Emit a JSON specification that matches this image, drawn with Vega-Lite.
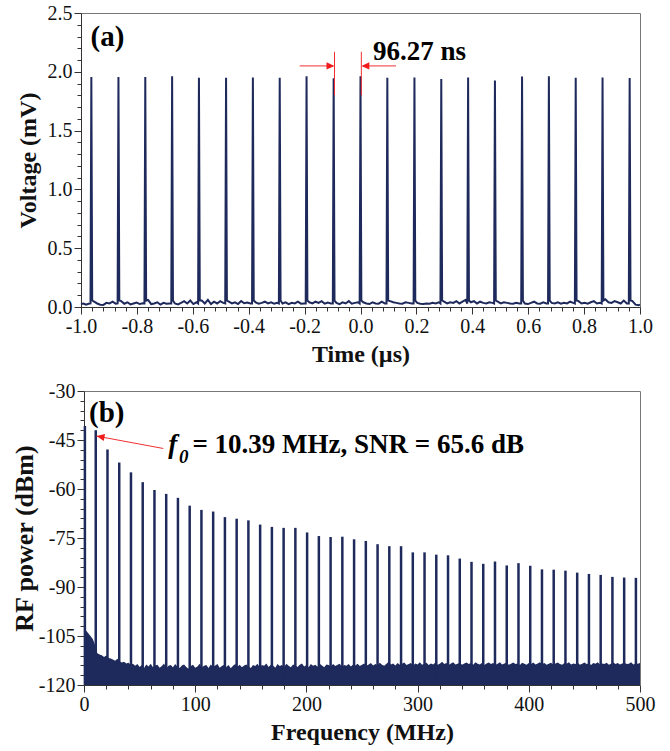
{
  "$schema": "https://vega.github.io/schema/vega-lite/v6.json",
  "padding": {"left": 11, "top": 2, "right": 13, "bottom": 5},
  "bounds": "flush",
  "spacing": 84,
  "config": {
    "font": "Liberation Serif",
    "view": {"stroke": "#777", "strokeWidth": 1},
    "axis": {"grid": false, "domainColor": "#333", "tickColor": "#333", "labelFont": "Liberation Serif", "labelFontSize": 20, "labelColor": "#111", "titleFont": "Liberation Serif", "titleFontSize": 24, "titleFontWeight": "bold", "titleColor": "#111", "labelOverlap": false, "labelFlush": false, "labelPadding": 2}
  },
  "vconcat": [
    {
      "width": 559,
      "height": 294,
      "resolve": {"axis": {"x": "independent", "y": "independent"}},
      "layer": [
        {
          "data": {"values": [
            {"t": -1.0, "v": 0.025}, {"t": -0.991, "v": 0.03}, {"t": -0.982, "v": 0.02}, {"t": -0.973, "v": 0.028},
            {"t": -0.966, "v": 0.03}, {"t": -0.963, "v": 1.955}, {"t": -0.96, "v": 0.055},
            {"t": -0.953, "v": 0.045}, {"t": -0.942, "v": 0.03}, {"t": -0.931, "v": 0.02}, {"t": -0.92, "v": 0.018}, {"t": -0.909, "v": 0.035}, {"t": -0.898, "v": 0.03}, {"t": -0.887, "v": 0.045}, {"t": -0.876, "v": 0.028},
            {"t": -0.869, "v": 0.03}, {"t": -0.866, "v": 1.955}, {"t": -0.863, "v": 0.055},
            {"t": -0.856, "v": 0.05}, {"t": -0.845, "v": 0.028}, {"t": -0.834, "v": 0.04}, {"t": -0.823, "v": 0.022}, {"t": -0.812, "v": 0.03}, {"t": -0.801, "v": 0.038}, {"t": -0.79, "v": 0.025}, {"t": -0.779, "v": 0.032},
            {"t": -0.773, "v": 0.03}, {"t": -0.77, "v": 1.955}, {"t": -0.767, "v": 0.055},
            {"t": -0.76, "v": 0.06}, {"t": -0.749, "v": 0.025}, {"t": -0.738, "v": 0.03}, {"t": -0.727, "v": 0.04}, {"t": -0.716, "v": 0.02}, {"t": -0.705, "v": 0.035}, {"t": -0.694, "v": 0.028}, {"t": -0.683, "v": 0.03},
            {"t": -0.677, "v": 0.03}, {"t": -0.674, "v": 1.962}, {"t": -0.671, "v": 0.055},
            {"t": -0.664, "v": 0.03}, {"t": -0.653, "v": 0.022}, {"t": -0.642, "v": 0.035}, {"t": -0.631, "v": 0.05}, {"t": -0.62, "v": 0.03}, {"t": -0.609, "v": 0.055}, {"t": -0.598, "v": 0.025}, {"t": -0.587, "v": 0.04},
            {"t": -0.581, "v": 0.03}, {"t": -0.578, "v": 1.95}, {"t": -0.575, "v": 0.055},
            {"t": -0.568, "v": 0.055}, {"t": -0.557, "v": 0.03}, {"t": -0.546, "v": 0.06}, {"t": -0.535, "v": 0.025}, {"t": -0.524, "v": 0.045}, {"t": -0.513, "v": 0.03}, {"t": -0.502, "v": 0.05}, {"t": -0.491, "v": 0.035},
            {"t": -0.484, "v": 0.03}, {"t": -0.481, "v": 1.95}, {"t": -0.478, "v": 0.055},
            {"t": -0.471, "v": 0.045}, {"t": -0.46, "v": 0.03}, {"t": -0.449, "v": 0.04}, {"t": -0.438, "v": 0.025}, {"t": -0.427, "v": 0.05}, {"t": -0.416, "v": 0.032}, {"t": -0.405, "v": 0.038}, {"t": -0.394, "v": 0.03},
            {"t": -0.388, "v": 0.03}, {"t": -0.385, "v": 1.952}, {"t": -0.382, "v": 0.055},
            {"t": -0.375, "v": 0.04}, {"t": -0.364, "v": 0.028}, {"t": -0.353, "v": 0.035}, {"t": -0.342, "v": 0.045}, {"t": -0.331, "v": 0.03}, {"t": -0.32, "v": 0.04}, {"t": -0.309, "v": 0.028}, {"t": -0.298, "v": 0.035},
            {"t": -0.292, "v": 0.03}, {"t": -0.289, "v": 1.95}, {"t": -0.286, "v": 0.055},
            {"t": -0.279, "v": 0.03}, {"t": -0.268, "v": 0.04}, {"t": -0.257, "v": 0.025}, {"t": -0.246, "v": 0.035}, {"t": -0.235, "v": 0.03}, {"t": -0.224, "v": 0.045}, {"t": -0.213, "v": 0.028}, {"t": -0.202, "v": 0.03},
            {"t": -0.196, "v": 0.03}, {"t": -0.193, "v": 1.963}, {"t": -0.19, "v": 0.055},
            {"t": -0.183, "v": 0.04}, {"t": -0.172, "v": 0.03}, {"t": -0.161, "v": 0.045}, {"t": -0.15, "v": 0.035}, {"t": -0.139, "v": 0.05}, {"t": -0.128, "v": 0.028}, {"t": -0.117, "v": 0.038}, {"t": -0.106, "v": 0.03},
            {"t": -0.099, "v": 0.03}, {"t": -0.096, "v": 1.945}, {"t": -0.093, "v": 0.055},
            {"t": -0.086, "v": 0.035}, {"t": -0.075, "v": 0.025}, {"t": -0.064, "v": 0.04}, {"t": -0.053, "v": 0.03}, {"t": -0.042, "v": 0.05}, {"t": -0.031, "v": 0.028}, {"t": -0.02, "v": 0.035}, {"t": -0.009, "v": 0.04},
            {"t": -0.003, "v": 0.03}, {"t": 0.0, "v": 1.963}, {"t": 0.003, "v": 0.055},
            {"t": 0.01, "v": 0.04}, {"t": 0.021, "v": 0.03}, {"t": 0.032, "v": 0.025}, {"t": 0.043, "v": 0.04}, {"t": 0.054, "v": 0.03}, {"t": 0.065, "v": 0.028}, {"t": 0.076, "v": 0.045}, {"t": 0.087, "v": 0.03},
            {"t": 0.093, "v": 0.03}, {"t": 0.096, "v": 1.95}, {"t": 0.099, "v": 0.055},
            {"t": 0.106, "v": 0.05}, {"t": 0.117, "v": 0.04}, {"t": 0.128, "v": 0.035}, {"t": 0.139, "v": 0.03}, {"t": 0.15, "v": 0.028}, {"t": 0.161, "v": 0.04}, {"t": 0.172, "v": 0.035}, {"t": 0.183, "v": 0.03},
            {"t": 0.19, "v": 0.03}, {"t": 0.193, "v": 1.952}, {"t": 0.196, "v": 0.055},
            {"t": 0.203, "v": 0.035}, {"t": 0.214, "v": 0.028}, {"t": 0.225, "v": 0.025}, {"t": 0.236, "v": 0.03}, {"t": 0.247, "v": 0.028}, {"t": 0.258, "v": 0.035}, {"t": 0.269, "v": 0.03}, {"t": 0.28, "v": 0.04},
            {"t": 0.286, "v": 0.03}, {"t": 0.289, "v": 1.938}, {"t": 0.292, "v": 0.055},
            {"t": 0.299, "v": 0.045}, {"t": 0.31, "v": 0.03}, {"t": 0.321, "v": 0.04}, {"t": 0.332, "v": 0.035}, {"t": 0.343, "v": 0.05}, {"t": 0.354, "v": 0.03}, {"t": 0.365, "v": 0.045}, {"t": 0.376, "v": 0.06},
            {"t": 0.382, "v": 0.03}, {"t": 0.385, "v": 1.952}, {"t": 0.388, "v": 0.055},
            {"t": 0.395, "v": 0.04}, {"t": 0.406, "v": 0.05}, {"t": 0.417, "v": 0.03}, {"t": 0.428, "v": 0.045}, {"t": 0.439, "v": 0.035}, {"t": 0.45, "v": 0.03}, {"t": 0.461, "v": 0.04}, {"t": 0.472, "v": 0.035},
            {"t": 0.478, "v": 0.03}, {"t": 0.481, "v": 1.927}, {"t": 0.484, "v": 0.055},
            {"t": 0.491, "v": 0.045}, {"t": 0.502, "v": 0.03}, {"t": 0.513, "v": 0.04}, {"t": 0.524, "v": 0.035}, {"t": 0.535, "v": 0.03}, {"t": 0.546, "v": 0.028}, {"t": 0.557, "v": 0.035}, {"t": 0.568, "v": 0.03},
            {"t": 0.575, "v": 0.03}, {"t": 0.578, "v": 1.96}, {"t": 0.581, "v": 0.055},
            {"t": 0.588, "v": 0.03}, {"t": 0.599, "v": 0.025}, {"t": 0.61, "v": 0.035}, {"t": 0.621, "v": 0.045}, {"t": 0.632, "v": 0.03}, {"t": 0.643, "v": 0.028}, {"t": 0.654, "v": 0.04}, {"t": 0.665, "v": 0.03},
            {"t": 0.671, "v": 0.03}, {"t": 0.674, "v": 1.963}, {"t": 0.677, "v": 0.055},
            {"t": 0.684, "v": 0.035}, {"t": 0.695, "v": 0.03}, {"t": 0.706, "v": 0.04}, {"t": 0.717, "v": 0.028}, {"t": 0.728, "v": 0.035}, {"t": 0.739, "v": 0.03}, {"t": 0.75, "v": 0.045}, {"t": 0.761, "v": 0.035},
            {"t": 0.767, "v": 0.03}, {"t": 0.77, "v": 1.95}, {"t": 0.773, "v": 0.055},
            {"t": 0.78, "v": 0.05}, {"t": 0.791, "v": 0.03}, {"t": 0.802, "v": 0.035}, {"t": 0.813, "v": 0.028}, {"t": 0.824, "v": 0.04}, {"t": 0.835, "v": 0.05}, {"t": 0.846, "v": 0.03}, {"t": 0.857, "v": 0.035},
            {"t": 0.863, "v": 0.03}, {"t": 0.866, "v": 1.952}, {"t": 0.869, "v": 0.055},
            {"t": 0.876, "v": 0.065}, {"t": 0.887, "v": 0.04}, {"t": 0.898, "v": 0.035}, {"t": 0.909, "v": 0.05}, {"t": 0.92, "v": 0.04}, {"t": 0.931, "v": 0.03}, {"t": 0.942, "v": 0.055}, {"t": 0.953, "v": 0.03},
            {"t": 0.96, "v": 0.03}, {"t": 0.963, "v": 1.947}, {"t": 0.966, "v": 0.055},
            {"t": 0.973, "v": 0.05}, {"t": 0.984, "v": 0.02}, {"t": 0.995, "v": 0.015}, {"t": 1.0, "v": 0.02}
          ]},
          "mark": {"type": "line", "color": "#1f2a5c", "strokeWidth": 2},
          "encoding": {
            "x": {"field": "t", "type": "quantitative", "scale": {"domain": [-1, 1], "nice": false},
              "axis": {"title": "Time (µs)", "titlePadding": 6, "labelOverlap": false, "labelFlush": false,
                "values": [-1, -0.96, -0.92, -0.88, -0.84, -0.8, -0.76, -0.72, -0.68, -0.64, -0.6, -0.56, -0.52, -0.48, -0.44, -0.4, -0.36, -0.32, -0.28, -0.24, -0.2, -0.16, -0.12, -0.08, -0.04, 0, 0.04, 0.08, 0.12, 0.16, 0.2, 0.24, 0.28, 0.32, 0.36, 0.4, 0.44, 0.48, 0.52, 0.56, 0.6, 0.64, 0.68, 0.72, 0.76, 0.8, 0.84, 0.88, 0.92, 0.96, 1],
                "labelExpr": "abs(datum.value*5-round(datum.value*5))<0.001 ? (datum.value<-0.001?'-':'')+format(abs(datum.value),'.1f') : ''",
                "tickSize": {"condition": {"test": "abs(datum.value*5-round(datum.value*5))<0.001", "value": 7}, "value": 4}}},
            "y": {"field": "v", "type": "quantitative", "scale": {"domain": [0, 2.5], "nice": false},
              "axis": {"title": "Voltage (mV)", "titlePadding": 7, "labelOverlap": false,
                "values": [0, 0.1, 0.2, 0.3, 0.4, 0.5, 0.6, 0.7, 0.8, 0.9, 1, 1.1, 1.2, 1.3, 1.4, 1.5, 1.6, 1.7, 1.8, 1.9, 2, 2.1, 2.2, 2.3, 2.4, 2.5],
                "labelExpr": "abs(datum.value*2-round(datum.value*2))<0.001 ? format(datum.value,'.1f') : ''",
                "tickSize": {"condition": {"test": "abs(datum.value*2-round(datum.value*2))<0.001", "value": 7}, "value": 4}}}
          }
        },
        {
          "data": {"values": [
            {"t": -0.2175, "t2": -0.1, "v": 2.05, "v2": 2.05},
            {"t": 0.127, "t2": 0.01, "v": 2.05, "v2": 2.05},
            {"t": -0.093, "t2": -0.093, "v": 1.8, "v2": 2.17},
            {"t": 0.003, "t2": 0.003, "v": 1.8, "v2": 2.17}
          ]},
          "mark": {"type": "rule", "color": "#f03030", "strokeWidth": 1},
          "encoding": {
            "x": {"field": "t", "type": "quantitative", "axis": null},
            "x2": {"field": "t2"},
            "y": {"field": "v", "type": "quantitative", "axis": null},
            "y2": {"field": "v2"}
          }
        },
        {
          "data": {"values": [{"t": -0.093, "v": 2.05}]},
          "mark": {"type": "point", "shape": "M0,0L-2,-0.9L-2,0.9Z", "size": 64, "filled": true, "color": "#f01c1c", "opacity": 1},
          "encoding": {"x": {"field": "t", "type": "quantitative", "axis": null}, "y": {"field": "v", "type": "quantitative", "axis": null}}
        },
        {
          "data": {"values": [{"t": 0.003, "v": 2.05}]},
          "mark": {"type": "point", "shape": "M0,0L2,-0.9L2,0.9Z", "size": 64, "filled": true, "color": "#f01c1c", "opacity": 1},
          "encoding": {"x": {"field": "t", "type": "quantitative", "axis": null}, "y": {"field": "v", "type": "quantitative", "axis": null}}
        },
        {
          "data": {"values": [{"t": -0.966, "v": 2.221, "label": "(a)"}]},
          "mark": {"type": "text", "font": "Liberation Serif", "fontWeight": "bold", "fontSize": 29, "align": "left", "baseline": "alphabetic", "color": "#000"},
          "encoding": {"x": {"field": "t", "type": "quantitative", "axis": null}, "y": {"field": "v", "type": "quantitative", "axis": null}, "text": {"field": "label"}}
        },
        {
          "data": {"values": [{"t": 0.045, "v": 2.104, "label": "96.27 ns"}]},
          "mark": {"type": "text", "font": "Liberation Serif", "fontWeight": "bold", "fontSize": 27, "align": "left", "baseline": "alphabetic", "color": "#000"},
          "encoding": {"x": {"field": "t", "type": "quantitative", "axis": null}, "y": {"field": "v", "type": "quantitative", "axis": null}, "text": {"field": "label"}}
        }
      ]
    },
    {
      "width": 559,
      "height": 294,
      "view": {"stroke": null},
      "resolve": {"axis": {"x": "independent", "y": "independent"}},
      "layer": [
        {
          "data": {"values": [
            {"f": 0, "n": -102.6}, {"f": 2, "n": -103.4}, {"f": 4, "n": -104.2}, {"f": 6, "n": -105.1}, {"f": 8, "n": -106.0}, {"f": 10, "n": -107.8}, {"f": 12, "n": -110.3}, {"f": 14, "n": -110.7}, {"f": 16, "n": -110.9}, {"f": 18, "n": -111.4},
            {"f": 20, "n": -111.0}, {"f": 22, "n": -111.7}, {"f": 24, "n": -111.9}, {"f": 26, "n": -112.2}, {"f": 28, "n": -112.6}, {"f": 30, "n": -112.0}, {"f": 32, "n": -112.7}, {"f": 34, "n": -113.1}, {"f": 36, "n": -112.9}, {"f": 38, "n": -113.4},
            {"f": 40, "n": -113.2}, {"f": 42, "n": -113.8}, {"f": 44, "n": -113.5},
            {"f": 46, "n": -114.1}, {"f": 48, "n": -113.6}, {"f": 50, "n": -114.5}, {"f": 52, "n": -113.9}, {"f": 54, "n": -114.8}, {"f": 56, "n": -113.7}, {"f": 58, "n": -114.3}, {"f": 60, "n": -113.5}, {"f": 62, "n": -114.6}, {"f": 64, "n": -114.0},
            {"f": 66, "n": -113.8}, {"f": 68, "n": -114.7}, {"f": 70, "n": -114.2}, {"f": 72, "n": -113.4}, {"f": 74, "n": -114.9}, {"f": 76, "n": -114.1}, {"f": 78, "n": -113.9}, {"f": 80, "n": -114.6}, {"f": 82, "n": -113.6}, {"f": 84, "n": -114.4},
            {"f": 86, "n": -114.8}, {"f": 88, "n": -114.0}, {"f": 90, "n": -113.7}, {"f": 92, "n": -114.5}, {"f": 94, "n": -115.0}, {"f": 96, "n": -114.2}, {"f": 98, "n": -113.8}, {"f": 100, "n": -114.7}, {"f": 102, "n": -114.3}, {"f": 104, "n": -113.5},
            {"f": 106, "n": -114.6}, {"f": 108, "n": -114.1}, {"f": 110, "n": -113.9}, {"f": 112, "n": -114.8}, {"f": 114, "n": -113.7}, {"f": 116, "n": -114.4}, {"f": 118, "n": -114.0}, {"f": 120, "n": -113.6}, {"f": 122, "n": -114.7}, {"f": 124, "n": -114.2},
            {"f": 126, "n": -113.8}, {"f": 128, "n": -114.5}, {"f": 130, "n": -113.9}, {"f": 132, "n": -114.9}, {"f": 134, "n": -114.1}, {"f": 136, "n": -113.6}, {"f": 138, "n": -114.4}, {"f": 140, "n": -113.8}, {"f": 142, "n": -114.6}, {"f": 144, "n": -114.0},
            {"f": 146, "n": -113.7}, {"f": 148, "n": -114.3}, {"f": 150, "n": -114.8}, {"f": 152, "n": -113.9}, {"f": 154, "n": -114.2}, {"f": 156, "n": -113.5}, {"f": 158, "n": -114.6}, {"f": 160, "n": -113.9}, {"f": 162, "n": -114.1}, {"f": 164, "n": -113.4},
            {"f": 166, "n": -114.5}, {"f": 168, "n": -113.8}, {"f": 170, "n": -114.0}, {"f": 172, "n": -114.7}, {"f": 174, "n": -113.6}, {"f": 176, "n": -114.2}, {"f": 178, "n": -113.9}, {"f": 180, "n": -114.4}, {"f": 182, "n": -113.5}, {"f": 184, "n": -114.1},
            {"f": 186, "n": -114.6}, {"f": 188, "n": -113.7}, {"f": 190, "n": -114.0}, {"f": 192, "n": -114.5}, {"f": 194, "n": -113.8}, {"f": 196, "n": -113.4}, {"f": 198, "n": -114.3}, {"f": 200, "n": -113.9}, {"f": 202, "n": -114.6}, {"f": 204, "n": -113.6},
            {"f": 206, "n": -114.1}, {"f": 208, "n": -113.8}, {"f": 210, "n": -114.4}, {"f": 212, "n": -113.5}, {"f": 214, "n": -114.0}, {"f": 216, "n": -114.6}, {"f": 218, "n": -113.7}, {"f": 220, "n": -113.9}, {"f": 222, "n": -114.3}, {"f": 224, "n": -113.6},
            {"f": 226, "n": -114.2}, {"f": 228, "n": -113.8}, {"f": 230, "n": -113.5}, {"f": 232, "n": -114.4}, {"f": 234, "n": -113.9}, {"f": 236, "n": -114.1}, {"f": 238, "n": -113.6}, {"f": 240, "n": -114.3}, {"f": 242, "n": -113.7}, {"f": 244, "n": -114.0},
            {"f": 246, "n": -113.5}, {"f": 248, "n": -114.2}, {"f": 250, "n": -113.8}, {"f": 252, "n": -113.4}, {"f": 254, "n": -114.1}, {"f": 256, "n": -113.7}, {"f": 258, "n": -113.3}, {"f": 260, "n": -114.0}, {"f": 262, "n": -113.6}, {"f": 264, "n": -113.9},
            {"f": 266, "n": -113.2}, {"f": 268, "n": -113.8}, {"f": 270, "n": -114.1}, {"f": 272, "n": -113.5}, {"f": 274, "n": -112.9}, {"f": 276, "n": -113.7}, {"f": 278, "n": -113.4}, {"f": 280, "n": -114.0}, {"f": 282, "n": -113.3}, {"f": 284, "n": -113.8},
            {"f": 286, "n": -113.5}, {"f": 288, "n": -113.1}, {"f": 290, "n": -113.9}, {"f": 292, "n": -113.6}, {"f": 294, "n": -113.3}, {"f": 296, "n": -114.0}, {"f": 298, "n": -113.4}, {"f": 300, "n": -113.7}, {"f": 302, "n": -113.0}, {"f": 304, "n": -113.8},
            {"f": 306, "n": -113.5}, {"f": 308, "n": -113.2}, {"f": 310, "n": -113.9}, {"f": 312, "n": -113.4}, {"f": 314, "n": -113.7}, {"f": 316, "n": -113.1}, {"f": 318, "n": -113.8}, {"f": 320, "n": -113.5}, {"f": 322, "n": -112.9}, {"f": 324, "n": -113.6},
            {"f": 326, "n": -113.3}, {"f": 328, "n": -113.9}, {"f": 330, "n": -113.4}, {"f": 332, "n": -113.0}, {"f": 334, "n": -113.7}, {"f": 336, "n": -113.5}, {"f": 338, "n": -113.2}, {"f": 340, "n": -113.8}, {"f": 342, "n": -113.4}, {"f": 344, "n": -113.1},
            {"f": 346, "n": -113.6}, {"f": 348, "n": -113.3}, {"f": 350, "n": -113.8}, {"f": 352, "n": -113.0}, {"f": 354, "n": -113.5}, {"f": 356, "n": -113.7}, {"f": 358, "n": -113.2}, {"f": 360, "n": -113.9}, {"f": 362, "n": -113.4}, {"f": 364, "n": -113.1},
            {"f": 366, "n": -113.6}, {"f": 368, "n": -113.3}, {"f": 370, "n": -113.8}, {"f": 372, "n": -113.5}, {"f": 374, "n": -113.0}, {"f": 376, "n": -113.7}, {"f": 378, "n": -113.4}, {"f": 380, "n": -113.2}, {"f": 382, "n": -113.8}, {"f": 384, "n": -113.5},
            {"f": 386, "n": -113.1}, {"f": 388, "n": -113.6}, {"f": 390, "n": -113.4}, {"f": 392, "n": -113.9}, {"f": 394, "n": -113.2}, {"f": 396, "n": -113.5}, {"f": 398, "n": -113.8}, {"f": 400, "n": -113.3}, {"f": 402, "n": -113.6}, {"f": 404, "n": -113.1},
            {"f": 406, "n": -113.7}, {"f": 408, "n": -113.4}, {"f": 410, "n": -113.0}, {"f": 412, "n": -113.6}, {"f": 414, "n": -113.3}, {"f": 416, "n": -113.8}, {"f": 418, "n": -113.5}, {"f": 420, "n": -113.2}, {"f": 422, "n": -113.7}, {"f": 424, "n": -113.4},
            {"f": 426, "n": -113.1}, {"f": 428, "n": -113.6}, {"f": 430, "n": -113.8}, {"f": 432, "n": -113.3}, {"f": 434, "n": -113.5}, {"f": 436, "n": -113.0}, {"f": 438, "n": -113.7}, {"f": 440, "n": -113.4}, {"f": 442, "n": -113.6}, {"f": 444, "n": -113.2},
            {"f": 446, "n": -113.8}, {"f": 448, "n": -113.5}, {"f": 450, "n": -113.1}, {"f": 452, "n": -113.6}, {"f": 454, "n": -113.4}, {"f": 456, "n": -113.9}, {"f": 458, "n": -113.3}, {"f": 460, "n": -113.5}, {"f": 462, "n": -113.0}, {"f": 464, "n": -113.7},
            {"f": 466, "n": -113.4}, {"f": 468, "n": -113.6}, {"f": 470, "n": -113.2}, {"f": 472, "n": -113.8}, {"f": 474, "n": -113.5}, {"f": 476, "n": -113.1}, {"f": 478, "n": -113.6}, {"f": 480, "n": -113.3}, {"f": 482, "n": -113.7}, {"f": 484, "n": -113.4},
            {"f": 486, "n": -113.2}, {"f": 488, "n": -113.6}, {"f": 490, "n": -113.5}, {"f": 492, "n": -113.0}, {"f": 494, "n": -113.7}, {"f": 496, "n": -113.4}, {"f": 498, "n": -113.5}, {"f": 500, "n": -113.3}
          ]},
          "mark": {"type": "area", "color": "#1f2a5c", "opacity": 1},
          "encoding": {
            "x": {"field": "f", "type": "quantitative", "scale": {"domain": [0, 500], "nice": false, "range": [3, 559]},
              "axis": {"title": "Frequency (MHz)", "titlePadding": 6, "labelOverlap": false, "labelFlush": false,
                "values": [0, 20, 40, 60, 80, 100, 120, 140, 160, 180, 200, 220, 240, 260, 280, 300, 320, 340, 360, 380, 400, 420, 440, 460, 480, 500],
                "labelExpr": "datum.value % 100 === 0 ? format(datum.value, 'd') : ''",
                "tickSize": {"condition": {"test": "datum.value % 100 === 0", "value": 7}, "value": 4}}},
            "y": {"field": "n", "type": "quantitative", "scale": {"domain": [-120, -30], "nice": false, "zero": false},
              "axis": {"title": "RF power (dBm)", "titleFontSize": 26, "titlePadding": 1, "offset": -3, "labelOverlap": false,
                "values": [-120, -117, -114, -111, -108, -105, -102, -99, -96, -93, -90, -87, -84, -81, -78, -75, -72, -69, -66, -63, -60, -57, -54, -51, -48, -45, -42, -39, -36, -33, -30],
                "labelExpr": "datum.value % 15 === 0 ? (datum.value<0?'-':'')+format(abs(datum.value),'d') : ''",
                "tickSize": {"condition": {"test": "datum.value % 15 === 0", "value": 7}, "value": 4}}},
            "y2": {"datum": -120}
          }
        },
        {
          "data": {"values": [
            {"f": 0.8, "p": -40.7}, {"f": 10.56, "p": -42.0}, {"f": 21.12, "p": -47.9}, {"f": 31.68, "p": -51.9}, {"f": 42.24, "p": -54.9}, {"f": 52.8, "p": -57.9}, {"f": 63.36, "p": -60.3}, {"f": 73.92, "p": -61.5},
            {"f": 84.48, "p": -62.7}, {"f": 95.04, "p": -65.1}, {"f": 105.6, "p": -66.4}, {"f": 116.16, "p": -66.9}, {"f": 126.72, "p": -68.6}, {"f": 137.28, "p": -69.1}, {"f": 147.84, "p": -69.6}, {"f": 158.4, "p": -70.9},
            {"f": 168.96, "p": -71.6}, {"f": 179.52, "p": -71.9}, {"f": 190.08, "p": -71.9}, {"f": 200.64, "p": -73.3}, {"f": 211.2, "p": -74.4}, {"f": 221.76, "p": -74.7}, {"f": 232.32, "p": -74.6}, {"f": 242.88, "p": -75.4},
            {"f": 253.44, "p": -75.9}, {"f": 264.0, "p": -76.9}, {"f": 274.56, "p": -77.5}, {"f": 285.12, "p": -77.5}, {"f": 295.68, "p": -79.4}, {"f": 306.24, "p": -79.4}, {"f": 316.8, "p": -80.1}, {"f": 327.36, "p": -80.3},
            {"f": 337.92, "p": -81.3}, {"f": 348.48, "p": -82.3}, {"f": 359.04, "p": -82.9}, {"f": 369.6, "p": -82.2}, {"f": 380.16, "p": -83.4}, {"f": 390.72, "p": -82.7}, {"f": 401.28, "p": -83.5}, {"f": 411.84, "p": -84.6},
            {"f": 422.4, "p": -84.7}, {"f": 432.96, "p": -85.0}, {"f": 443.52, "p": -85.6}, {"f": 454.08, "p": -86.0}, {"f": 464.64, "p": -86.3}, {"f": 475.2, "p": -86.9}, {"f": 485.76, "p": -87.1}, {"f": 496.32, "p": -87.2}
          ]},
          "mark": {"type": "rule", "color": "#1f2a5c", "strokeWidth": 2.5},
          "encoding": {
            "x": {"field": "f", "type": "quantitative", "scale": {"domain": [0, 500], "nice": false, "range": [3, 559]},
              "axis": {"orient": "top", "labels": false, "ticks": false, "title": null, "domainColor": "#777"}},
            "y": {"field": "p", "type": "quantitative", "scale": {"domain": [-120, -30], "nice": false, "zero": false},
              "axis": {"orient": "right", "labels": false, "ticks": false, "title": null, "domainColor": "#777"}},
            "y2": {"datum": -120}
          }
        },
        {
          "data": {"values": [{"f": 11.3, "f2": 71.3, "p": -43.8, "p2": -47.6}]},
          "mark": {"type": "rule", "color": "#f03030", "strokeWidth": 1},
          "encoding": {
            "x": {"field": "f", "type": "quantitative", "axis": null},
            "x2": {"field": "f2"},
            "y": {"field": "p", "type": "quantitative", "axis": null},
            "y2": {"field": "p2"}
          }
        },
        {
          "data": {"values": [{"f": 11.3, "p": -43.8}]},
          "mark": {"type": "point", "shape": "M0,0L2,-0.9L2,0.9Z", "size": 64, "angle": 10.4, "filled": true, "color": "#f01c1c", "opacity": 1},
          "encoding": {"x": {"field": "f", "type": "quantitative", "axis": null}, "y": {"field": "p", "type": "quantitative", "axis": null}}
        },
        {
          "data": {"values": [{"f": 4.5, "p": -39.4, "label": "(b)"}]},
          "mark": {"type": "text", "font": "Liberation Serif", "fontWeight": "bold", "fontSize": 29, "align": "left", "baseline": "alphabetic", "color": "#000"},
          "encoding": {"x": {"field": "f", "type": "quantitative", "axis": null}, "y": {"field": "p", "type": "quantitative", "axis": null}, "text": {"field": "label"}}
        },
        {
          "data": {"values": [{"f": 75.8, "p": -48.9, "label": "f"}]},
          "mark": {"type": "text", "font": "Liberation Serif", "fontWeight": "bold", "fontStyle": "italic", "fontSize": 27, "align": "left", "baseline": "alphabetic", "color": "#000"},
          "encoding": {"x": {"field": "f", "type": "quantitative", "axis": null}, "y": {"field": "p", "type": "quantitative", "axis": null}, "text": {"field": "label"}}
        },
        {
          "data": {"values": [{"f": 85.5, "p": -52.1, "label": "0"}]},
          "mark": {"type": "text", "font": "Liberation Serif", "fontWeight": "bold", "fontStyle": "italic", "fontSize": 19, "align": "left", "baseline": "alphabetic", "color": "#000"},
          "encoding": {"x": {"field": "f", "type": "quantitative", "axis": null}, "y": {"field": "p", "type": "quantitative", "axis": null}, "text": {"field": "label"}}
        },
        {
          "data": {"values": [{"f": 97.5, "p": -48.9, "label": "= 10.39 MHz, SNR = 65.6 dB"}]},
          "mark": {"type": "text", "font": "Liberation Serif", "fontWeight": "bold", "fontSize": 27, "align": "left", "baseline": "alphabetic", "color": "#000"},
          "encoding": {"x": {"field": "f", "type": "quantitative", "axis": null}, "y": {"field": "p", "type": "quantitative", "axis": null}, "text": {"field": "label"}}
        }
      ]
    }
  ]
}
